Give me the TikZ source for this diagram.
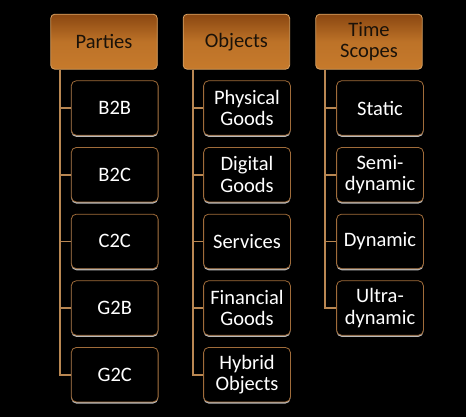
\documentclass[tikz,border=0pt]{standalone}
\usepackage{fontspec}
\setmainfont{Carlito}
\usetikzlibrary{calc,shadows}
\definecolor{hdrtop}{HTML}{8A4711}
\definecolor{hdrbot}{HTML}{C67A2C}
\definecolor{hdredge}{HTML}{D9A263}
\definecolor{boxedge}{HTML}{A06C3A}
\definecolor{wire}{HTML}{B98752}
\definecolor{hdrtext}{HTML}{1A1209}
\begin{document}
\begin{tikzpicture}[x=1pt,y=-1pt,
  header/.style={rectangle, rounded corners=4pt, minimum width=106.5pt, minimum height=55pt,
    top color=hdrtop, bottom color=hdrbot, middle color=hdrbot!85!hdrtop, draw=hdredge, line width=0.8pt,
    text=hdrtext, align=center, inner sep=2pt,
    font=\fontsize{20.5}{21.5}\selectfont},
  leaf/.style={rectangle, rounded corners=5pt, minimum width=86.8pt, minimum height=54.5pt,
    fill=black, draw=boxedge, line width=0.8pt, text=white, align=center, inner sep=2pt,
    font=\fontsize{20.5}{21.5}\selectfont,
    copy shadow={shadow xshift=0pt, shadow yshift=-1.6pt, fill=gray!55, draw=none}},
  wireline/.style={draw=wire, line width=1.8pt}]
  \fill[black] (0,0) rectangle (466,417);
  \useasboundingbox (0,0) rectangle (466,417);

  % column headers
  \node[header] (parties) at (104,41.7) {Parties};
  \node[header] (objects) at (236.4,41.7) {Objects};
  \node[header] (time) at (369,41.7) {Time\\Scopes};

  % Parties column
  \node[leaf] (b2b) at (114.7,108) {B2B};
  \node[leaf] (b2c) at (114.7,174.7) {B2C};
  \node[leaf] (c2c) at (114.7,241.4) {C2C};
  \node[leaf] (g2b) at (114.7,308) {G2B};
  \node[leaf] (g2c) at (114.7,374.7) {G2C};

  % Objects column
  \node[leaf] (phys) at (247,108) {Physical\\Goods};
  \node[leaf] (digi) at (247,174.7) {Digital\\Goods};
  \node[leaf] (serv) at (247,241.4) {Services};
  \node[leaf] (fin) at (247,308) {Financial\\Goods};
  \node[leaf] (hyb) at (247,374.7) {Hybrid\\Objects};

  % Time scope column
  \node[leaf] (stat) at (380,108) {Static};
  \node[leaf] (semi) at (380,174.7) {Semi-\\dynamic};
  \node[leaf] (dyn) at (380,241.4) {Dynamic};
  \node[leaf] (ultra) at (380,308) {Ultra-\\dynamic};

  % tree connectors
  \coordinate (pspine) at ($(parties.south west)+(10,0)$);
  \coordinate (ospine) at ($(objects.south west)+(10.6,0)$);
  \coordinate (tspine) at ($(time.south west)+(10,0)$);
  \foreach \c in {b2b,b2c,c2c,g2b,g2c}
    \draw[wireline] (pspine) |- (\c.west);
  \foreach \c in {phys,digi,serv,fin,hyb}
    \draw[wireline] (ospine) |- (\c.west);
  \foreach \c in {stat,semi,dyn,ultra}
    \draw[wireline] (tspine) |- (\c.west);
\end{tikzpicture}
\end{document}
